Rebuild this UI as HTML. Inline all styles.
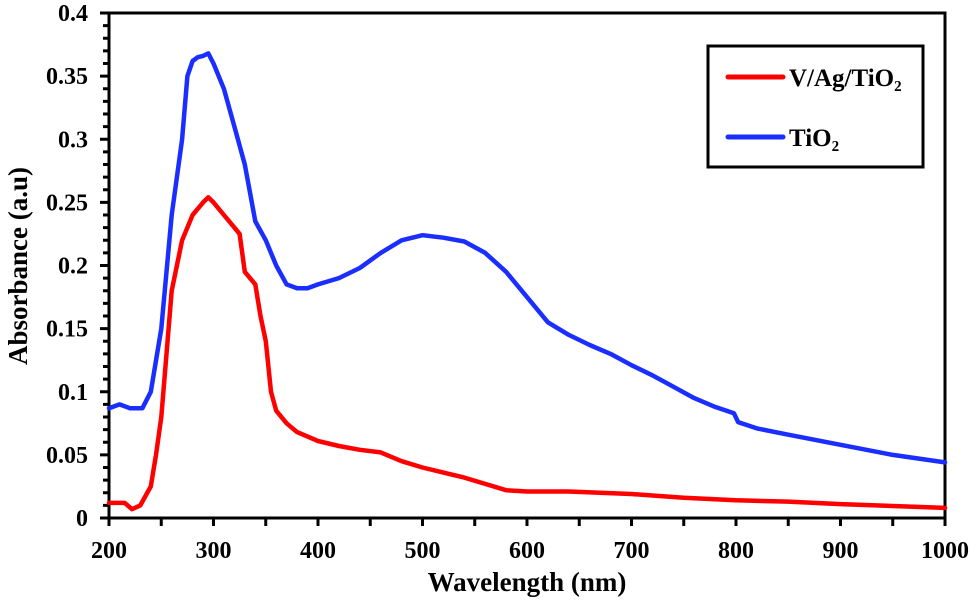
<!DOCTYPE html>
<html><head><meta charset="utf-8"><style>
html,body{margin:0;padding:0;background:#fff;}
svg{display:block;}
text{font-family:"Liberation Serif","DejaVu Serif",serif;font-weight:bold;}
</style></head><body>
<svg id="chart" width="971" height="607" viewBox="0 0 971 607">
<g id="plot"></g>
</svg>
<script>
const xTicks=[200,300,400,500,600,700,800,900,1000];
const yTicks=[0,0.05,0.1,0.15,0.2,0.25,0.3,0.35,0.4];
const yTickLabels=["0","0.05","0.1","0.15","0.2","0.25","0.3","0.35","0.4"];
const tio2X=[200,210,220,232,240,250,260,270,275,280,285,290,295,300,310,320,330,340,350,360,370,380,390,400,420,440,460,480,500,520,540,560,580,600,620,640,660,680,700,720,740,760,780,798,802,820,850,900,950,1000];
const tio2Y=[0.087,0.09,0.087,0.087,0.1,0.15,0.24,0.3,0.35,0.362,0.365,0.366,0.368,0.36,0.34,0.31,0.28,0.235,0.22,0.2,0.185,0.182,0.182,0.185,0.19,0.198,0.21,0.22,0.224,0.222,0.219,0.21,0.195,0.175,0.155,0.145,0.137,0.13,0.121,0.113,0.104,0.095,0.088,0.083,0.076,0.071,0.066,0.058,0.05,0.044];
const vagX=[200,215,222,230,240,245,250,255,260,265,270,280,290,295,300,310,320,325,330,340,345,350,355,360,370,380,400,420,440,460,480,500,520,540,560,580,600,640,700,750,800,850,900,1000];
const vagY=[0.012,0.012,0.007,0.01,0.025,0.05,0.08,0.13,0.18,0.2,0.22,0.24,0.25,0.254,0.25,0.24,0.23,0.225,0.195,0.185,0.16,0.14,0.1,0.085,0.075,0.068,0.061,0.057,0.054,0.052,0.045,0.04,0.036,0.032,0.027,0.022,0.021,0.021,0.019,0.016,0.014,0.013,0.011,0.008];
const X0=109,X1=945,Y0=518,Y1=13;
const sx=v=>X0+(v-200)/800*(X1-X0);
const sy=v=>Y0-v/0.4*(Y0-Y1);
const NS="http://www.w3.org/2000/svg";
const svg=document.getElementById('chart');
function mk(tag,attrs,parent){const e=document.createElementNS(NS,tag);for(const k in attrs)e.setAttribute(k,attrs[k]);(parent||svg).appendChild(e);return e;}
const fr=mk('path',{d:`M${X0},${Y1}H${X1}V${Y0}H${X0}Z`,fill:'none',stroke:'#000','stroke-width':3});


for(let v=200;v<=1000;v+=50){const t=mk('line',{x1:sx(v),x2:sx(v),y1:Y0,y2:Y0+8,stroke:'#000','stroke-width':3});

}
xTicks.forEach(v=>{const t=mk('text',{x:sx(v),y:558,'text-anchor':'middle','font-size':24});t.textContent=v;

});
for(let i=0;i<=40;i++){const v=i*0.01;const t=mk('line',{x1:X0-(i%5===0?9:6),x2:X0,y1:sy(v),y2:sy(v),stroke:'#000','stroke-width':3});

}
yTicks.forEach((v,i)=>{const t=mk('text',{x:88,y:sy(v)+8,'text-anchor':'end','font-size':24});t.textContent=yTickLabels[i];

});
function line(xs,ys,color,name){const d=xs.map((x,i)=>(i?'L':'M')+sx(x).toFixed(1)+','+sy(ys[i]).toFixed(1)).join('');
const p=mk('path',{d:d,fill:'none',stroke:color,'stroke-width':4.5,'stroke-linejoin':'round','stroke-linecap':'round'});

}
line(tio2X,tio2Y,'#1a2eff','tio2-line');
line(vagX,vagY,'#ff0000','v-ag-tio2-line');
</script>
<svg style="position:absolute;left:0;top:0" width="971" height="607">
<text x="527" y="591" text-anchor="middle" font-size="27">Wavelength (nm)</text>
<text transform="translate(27,266) rotate(-90)" text-anchor="middle" font-size="27">Absorbance (a.u)</text>
<g>
<rect x="708" y="46" width="215" height="121" fill="#fff" stroke="#000" stroke-width="3"/>
<line x1="728" y1="77" x2="783" y2="77" stroke="#ff0000" stroke-width="5" stroke-linecap="round"/>
<text x="789" y="86" font-size="25">V/Ag/TiO₂</text>
<line x1="728" y1="137" x2="783" y2="137" stroke="#1a2eff" stroke-width="5" stroke-linecap="round"/>
<text x="789" y="146" font-size="25">TiO₂</text>
</g>
</svg>
</body></html>
